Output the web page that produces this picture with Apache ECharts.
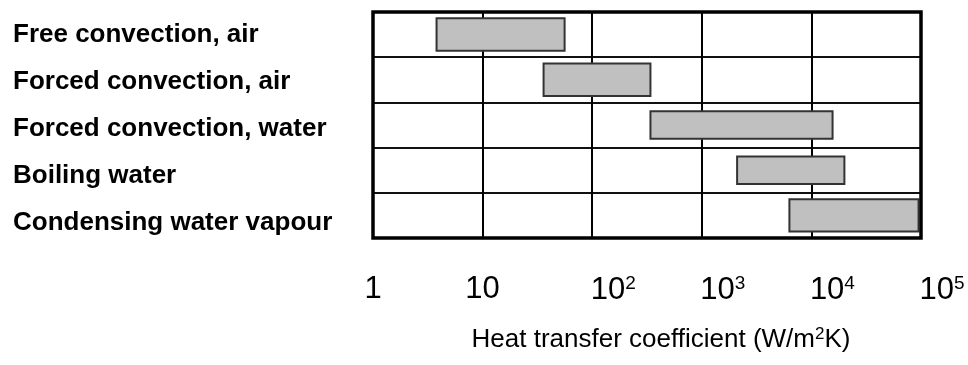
<!DOCTYPE html>
<html>
<head>
<meta charset="utf-8">
<script src="https://cdn.jsdelivr.net/npm/echarts@6/dist/echarts.min.js"></script>
<style>
html,body{margin:0;padding:0;background:#fff;}
#c{width:968px;height:365px;}
</style>
</head>
<body>
<div id="c"></div>
<script>
// ---- data ----
var categories = ['Free convection, air', 'Forced convection, air', 'Forced convection, water', 'Boiling water', 'Condensing water vapour'];
var lowValues  = [3.8, 36, 340, 2100, 6300];
var highValues = [56, 340, 15600, 20000, 95000];
var tickValues = [1, 10, 100, 1000, 10000, 100000];
var tickBase   = ['1', '10', '10', '10', '10', '10'];
var tickExp    = ['', '', '2', '3', '4', '5'];
var axisTitle  = 'Heat transfer coefficient (W/m{sup|2}K)';

// ---- style ----
var barThickness = [0.72, 0.72, 0.61, 0.61, 0.71];
var FONT = '"Liberation Sans", Arial, Helvetica, sans-serif';

var seriesData = categories.map(function (c, i) {
  return [i, lowValues[i], highValues[i]];
});

var chart = echarts.init(document.getElementById('c'), null, {renderer: 'canvas'});
chart.setOption({
  animation: false,
  backgroundColor: '#fff',
  grid: [{
    left: 373, right: 47, top: 12, bottom: 127,
    show: true, borderColor: '#000', borderWidth: 3.5, backgroundColor: 'transparent', z: 3
  }, {
    left: 373, right: 47, top: 11, bottom: 119, show: false
  }],
  xAxis: [{
    type: 'log', logBase: 10, min: 1, max: 100000, gridIndex: 0,
    axisLine: {show: false}, axisTick: {show: false},
    splitLine: {show: true, lineStyle: {color: '#000', width: 2}},
    axisLabel: {
      margin: 36, fontFamily: FONT, fontSize: 31, color: '#000',
      formatter: function (v) {
        var idx = tickValues.indexOf(Math.round(v));
        if (idx < 0) return '';
        if (!tickExp[idx]) return '{n|' + tickBase[idx] + '}';
        return '{b|' + tickBase[idx] + '}{sup|' + tickExp[idx] + '}';
      },
      rich: {
        n: {fontSize: 31, fontFamily: FONT, color: '#000'},
        b: {fontSize: 31, fontFamily: FONT, color: '#000', padding: [0, 0, 0, 42]},
        sup: {fontSize: 19, fontFamily: FONT, color: '#000', verticalAlign: 'top', padding: [0, 0, 14, 0]}
      }
    },
    name: axisTitle, nameLocation: 'middle', nameGap: 88,
    nameTextStyle: {
      fontFamily: FONT, fontSize: 26, color: '#000', padding: [0, 0, 0, 28],
      rich: {sup: {fontSize: 17, fontFamily: FONT, color: '#000', padding: [0, 0, 10, 0]}}
    }
  }, {
    type: 'value', gridIndex: 1, show: false
  }],
  yAxis: [{
    type: 'category', data: categories, inverse: true, gridIndex: 0,
    axisLine: {show: false}, axisTick: {show: false}, axisLabel: {show: false},
    splitLine: {show: true, lineStyle: {color: '#111', width: 2}}
  }, {
    type: 'category', data: categories, inverse: true, gridIndex: 1,
    axisLine: {show: false}, axisTick: {show: false}, splitLine: {show: false},
    axisLabel: {
      align: 'left', margin: 360, fontFamily: FONT, fontSize: 26, fontWeight: 'bold', color: '#000'
    }
  }],
  series: [{
    type: 'custom',
    xAxisIndex: 0, yAxisIndex: 0,
    encode: {x: [1, 2], y: 0},
    data: seriesData,
    renderItem: function (params, api) {
      var i = api.value(0);
      var p1 = api.coord([api.value(1), i]);
      var p2 = api.coord([api.value(2), i]);
      var band = api.size([1, 1])[1];
      var h = band * barThickness[i];
      return {
        type: 'rect',
        shape: {x: p1[0], y: p1[1] - h / 2, width: p2[0] - p1[0], height: h},
        style: {fill: '#c0c0c0', stroke: '#333', lineWidth: 2}
      };
    }
  }]
});
</script>
</body>
</html>
